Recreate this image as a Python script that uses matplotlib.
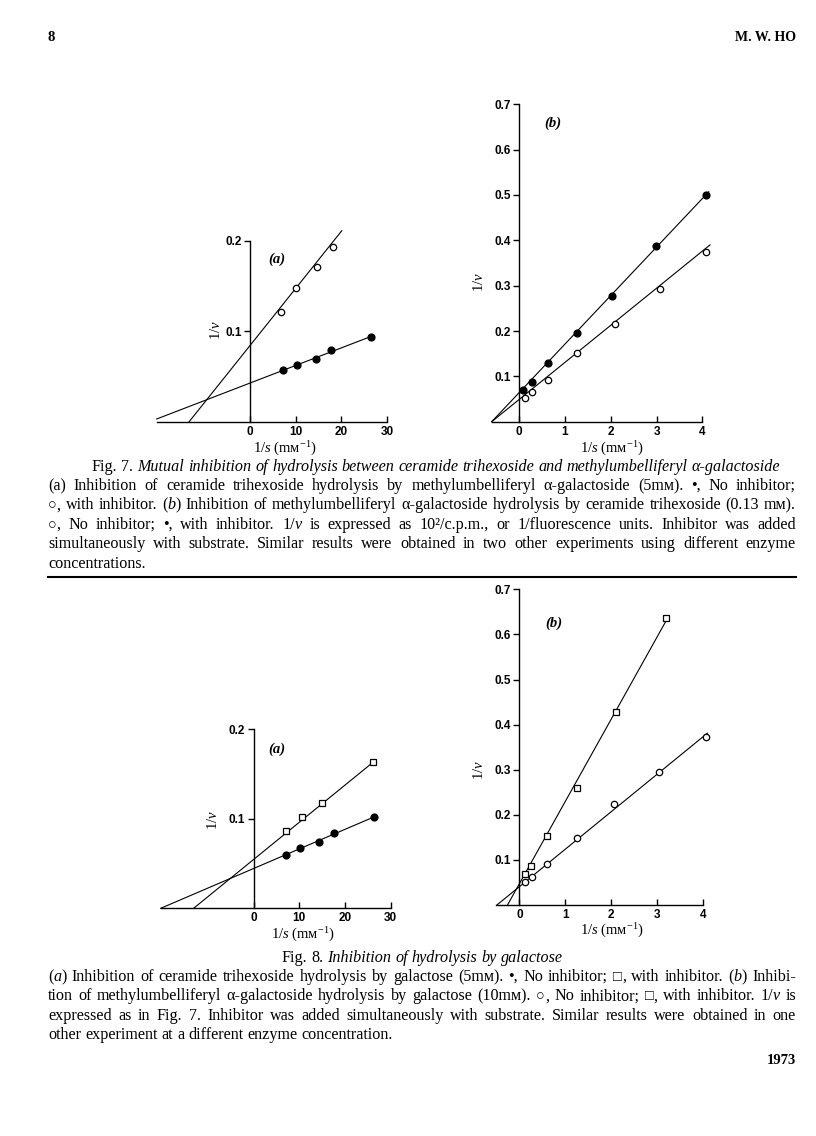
import matplotlib
matplotlib.use('Agg')
import matplotlib.pyplot as plt
from matplotlib.lines import Line2D

plt.rcParams['mathtext.fontset'] = 'custom'
plt.rcParams['mathtext.rm'] = 'Liberation Serif'
plt.rcParams['mathtext.it'] = 'Liberation Serif:italic'

SERIF = ['Liberation Serif', 'DejaVu Serif']
SANS = ['Liberation Sans', 'DejaVu Sans']

# Fig. 7(a): ceramide trihexoside, 1/s (mM^-1) vs 1/v
f7a_none_x = [7.3, 10.4, 14.5, 17.7, 26.4]
f7a_none_y = [0.057, 0.063, 0.069, 0.079, 0.094]
f7a_inh_x = [6.8, 10.0, 14.6, 18.1]
f7a_inh_y = [0.121, 0.148, 0.171, 0.193]
f7a_none_line = ([-20.4, 26.4], [0.003, 0.094])
f7a_inh_line = ([-13.3, 20.1], [0.0, 0.211])

# Fig. 7(b): methylumbelliferyl a-galactoside
f7b_none_x = [0.12, 0.28, 0.64, 1.27, 2.09, 3.07, 4.09]
f7b_none_y = [0.053, 0.065, 0.092, 0.152, 0.215, 0.293, 0.375]
f7b_inh_x = [0.09, 0.27, 0.62, 1.27, 2.02, 2.99, 4.09]
f7b_inh_y = [0.071, 0.087, 0.129, 0.196, 0.277, 0.388, 0.500]
f7b_none_line = ([-0.6, 4.17], [0.0, 0.39])
f7b_inh_line = ([-0.6, 4.14], [0.0, 0.507])

# Fig. 8(a): galactose, ceramide trihexoside
f8a_none_x = [7.2, 10.2, 14.4, 17.7, 26.3]
f8a_none_y = [0.060, 0.067, 0.074, 0.084, 0.102]
f8a_inh_x = [7.2, 10.7, 15.0, 26.1]
f8a_inh_y = [0.086, 0.102, 0.118, 0.163]
f8a_none_line = ([-20.3, 26.3], [0.0, 0.102])
f8a_inh_line = ([-13.1, 26.1], [0.0, 0.163])

# Fig. 8(b): galactose, methylumbelliferyl a-galactoside
f8b_none_x = [0.12, 0.27, 0.61, 1.25, 2.06, 3.04, 4.06]
f8b_none_y = [0.050, 0.061, 0.091, 0.148, 0.225, 0.296, 0.373]
f8b_inh_x = [0.12, 0.25, 0.61, 1.25, 2.10, 3.19]
f8b_inh_y = [0.069, 0.086, 0.153, 0.260, 0.427, 0.637]
f8b_none_line = ([-0.49, 4.09], [0.0, 0.381])
f8b_inh_line = ([-0.26, 3.19], [0.0, 0.630])

ticks_a_x = [0, 10, 20, 30]
ticks_a_y = [0.1, 0.2]
ticks_b_x = [0, 1, 2, 3, 4]
ticks_b_y = [0.1, 0.2, 0.3, 0.4, 0.5, 0.6, 0.7]

cap7_title = 'Fig. 7. *Mutual inhibition of hydrolysis between ceramide trihexoside and methylumbelliferyl α-galactoside*'
cap7_lines = [
    '(a) Inhibition of ceramide trihexoside hydrolysis by methylumbelliferyl α-galactoside (5mм). •, No inhibitor;',
    '○, with inhibitor. (*b*) Inhibition of methylumbelliferyl α-galactoside hydrolysis by ceramide trihexoside (0.13 mм).',
    '○, No inhibitor; •, with inhibitor. 1/*v* is expressed as 10²/c.p.m., or 1/fluorescence units. Inhibitor was added',
    'simultaneously with substrate. Similar results were obtained in two other experiments using different enzyme',
    'concentrations.',
]
cap8_title = 'Fig. 8. *Inhibition of hydrolysis by galactose*'
cap8_lines = [
    '(*a*) Inhibition of ceramide trihexoside hydrolysis by galactose (5mм). •, No inhibitor; □, with inhibitor. (*b*) Inhibi-',
    'tion of methylumbelliferyl α-galactoside hydrolysis by galactose (10mм). ○, No inhibitor; □, with inhibitor. 1/*v* is',
    'expressed as in Fig. 7. Inhibitor was added simultaneously with substrate. Similar results were obtained in one',
    'other experiment at a different enzyme concentration.',
]

W, H = 816, 1136
fig = plt.figure(figsize=(W / 100, H / 100), dpi=100)
fig.patch.set_facecolor('white')


def px(x, y):
    return x / W, 1 - y / H


def make_axes(x0, x1, ytop, ybot, xlim, ylim, xt, yt):
    ax = fig.add_axes([x0 / W, 1 - ybot / H, (x1 - x0) / W, (ybot - ytop) / H])
    ax.set_xlim(*xlim)
    ax.set_ylim(*ylim)
    for s in ['top', 'right']:
        ax.spines[s].set_visible(False)
    ax.spines['left'].set_position(('data', 0))
    ax.spines['left'].set_linewidth(1.0)
    ax.spines['bottom'].set_linewidth(1.0)
    ax.set_xticks(xt)
    ax.set_xticklabels([str(v) for v in xt])
    ax.set_yticks(yt)
    ax.set_yticklabels(['%.1f' % v for v in yt])
    ax.tick_params(axis='x', direction='in', length=4, width=1.0, pad=3)
    ax.tick_params(axis='y', direction='out', length=4, width=1.0, pad=2)
    for lab in ax.get_xticklabels() + ax.get_yticklabels():
        lab.set_fontfamily(SANS)
        lab.set_fontweight('bold')
        lab.set_fontsize(8.5)
    ax.patch.set_alpha(0)
    return ax


def draw(ax, line, x, y, marker, fill):
    ax.plot(line[0], line[1], color='black', lw=0.8, clip_on=False)
    ax.plot(x, y, ls='none', marker=marker, ms=5.0 if fill else 4.6,
            mfc='black' if fill else 'white', mec='black', mew=0.9, clip_on=False, zorder=3)


ax7a = make_axes(156.7, 387, 240.7, 421.7, (-20.4, 30), (0, 0.2), ticks_a_x, ticks_a_y)
draw(ax7a, f7a_none_line, f7a_none_x, f7a_none_y, 'o', True)
draw(ax7a, f7a_inh_line, f7a_inh_x, f7a_inh_y, 'o', False)
ax7a.text(5.8, 0.18, '(a)', family=SERIF, style='italic', fontweight='bold', fontsize=10.5, ha='center', va='center')

ax7b = make_axes(491.7, 702.3, 104.3, 421.7, (-0.6, 4), (0, 0.7), ticks_b_x, ticks_b_y)
draw(ax7b, f7b_inh_line, f7b_inh_x, f7b_inh_y, 'o', True)
draw(ax7b, f7b_none_line, f7b_none_x, f7b_none_y, 'o', False)
ax7b.text(0.74, 0.658, '(b)', family=SERIF, style='italic', fontweight='bold', fontsize=10.5, ha='center', va='center')

ax8a = make_axes(160.7, 390.7, 729.3, 908.3, (-20.3, 30), (0, 0.2), ticks_a_x, ticks_a_y)
draw(ax8a, f8a_none_line, f8a_none_x, f8a_none_y, 'o', True)
draw(ax8a, f8a_inh_line, f8a_inh_x, f8a_inh_y, 's', False)
ax8a.text(5.1, 0.178, '(a)', family=SERIF, style='italic', fontweight='bold', fontsize=10.5, ha='center', va='center')

ax8b = make_axes(496, 703.3, 589.3, 905, (-0.51, 4), (0, 0.7), ticks_b_x, ticks_b_y)
draw(ax8b, f8b_none_line, f8b_none_x, f8b_none_y, 'o', False)
draw(ax8b, f8b_inh_line, f8b_inh_x, f8b_inh_y, 's', False)
ax8b.text(0.74, 0.625, '(b)', family=SERIF, style='italic', fontweight='bold', fontsize=10.5, ha='center', va='center')

xlab = '1/$s$ (mм$^{-1}$)'
ylab = '1/$v$'
for (x, y) in [(285, 449), (612, 449), (303, 935), (612, 931)]:
    fig.text(*px(x, y), xlab, family=SERIF, fontsize=10.5, ha='center', va='center')
for (x, y) in [(216, 330), (479, 282), (213, 820), (479, 770)]:
    fig.text(*px(x, y), ylab, family=SERIF, fontsize=10.5, ha='center', va='center', rotation=90)

# page furniture
fig.text(*px(47, 41), '8', family=SERIF, fontsize=10.5, fontweight='bold', ha='left', va='baseline')
fig.text(*px(796, 41), 'M. W. HO', family=SERIF, fontsize=10, fontweight='bold', ha='right', va='baseline')
fig.text(*px(796, 1064), '1973', family=SERIF, fontsize=10.5, fontweight='bold', ha='right', va='baseline')
fig.add_artist(Line2D([48 / W, 796 / W], [1 - 577 / H, 1 - 577 / H], color='black', lw=1.5))

renderer = fig.canvas.get_renderer()
SMALL = {'○': 0.9, '□': 0.9}


def caption_line(y, markup, mode='justify', x0=48, x1=796, size=11.6):
    words = []
    italic = False
    for w in markup.split(' '):
        parts = []
        for i, seg in enumerate(w.split('*')):
            if i > 0:
                italic = not italic
            if seg:
                parts.append((seg, italic))
        words.append(parts)
    items, widths = [], []
    for parts in words:
        row, tot = [], 0
        for seg, it in parts:
            subs = [seg]
            if seg[0] in SMALL and len(seg) > 1:
                subs = [seg[0], seg[1:]]
            for sub in subs:
                fs = size * SMALL.get(sub, 1.0)
                t = fig.text(0, 0, sub, family=SERIF, fontsize=fs,
                             style='italic' if it else 'normal', ha='left', va='baseline')
                w = t.get_window_extent(renderer).width
                row.append((t, w))
                tot += w
        items.append(row)
        widths.append(tot)
    space = size * 100 / 72 * 0.25
    gaps = max(len(words) - 1, 1)
    if mode == 'justify':
        gap = (x1 - x0 - sum(widths)) / gaps
        x = x0
    elif mode == 'center':
        gap = space
        x = (x0 + x1) / 2 - (sum(widths) + gap * (len(words) - 1)) / 2
    else:
        gap = space
        x = x0
    for row in items:
        for t, w in row:
            t.set_position(px(x, y))
            x += w
        x += gap


caption_line(471, cap7_title, mode='center', x0=62, x1=810)
for i, ln in enumerate(cap7_lines):
    caption_line(490 + 19.4 * i, ln, mode='left' if i == len(cap7_lines) - 1 else 'justify')

caption_line(962, cap8_title, mode='center')
for i, ln in enumerate(cap8_lines):
    caption_line(981 + 19.4 * i, ln, mode='left' if i == len(cap8_lines) - 1 else 'justify')

fig.savefig('out.png', dpi=100, facecolor='white')
